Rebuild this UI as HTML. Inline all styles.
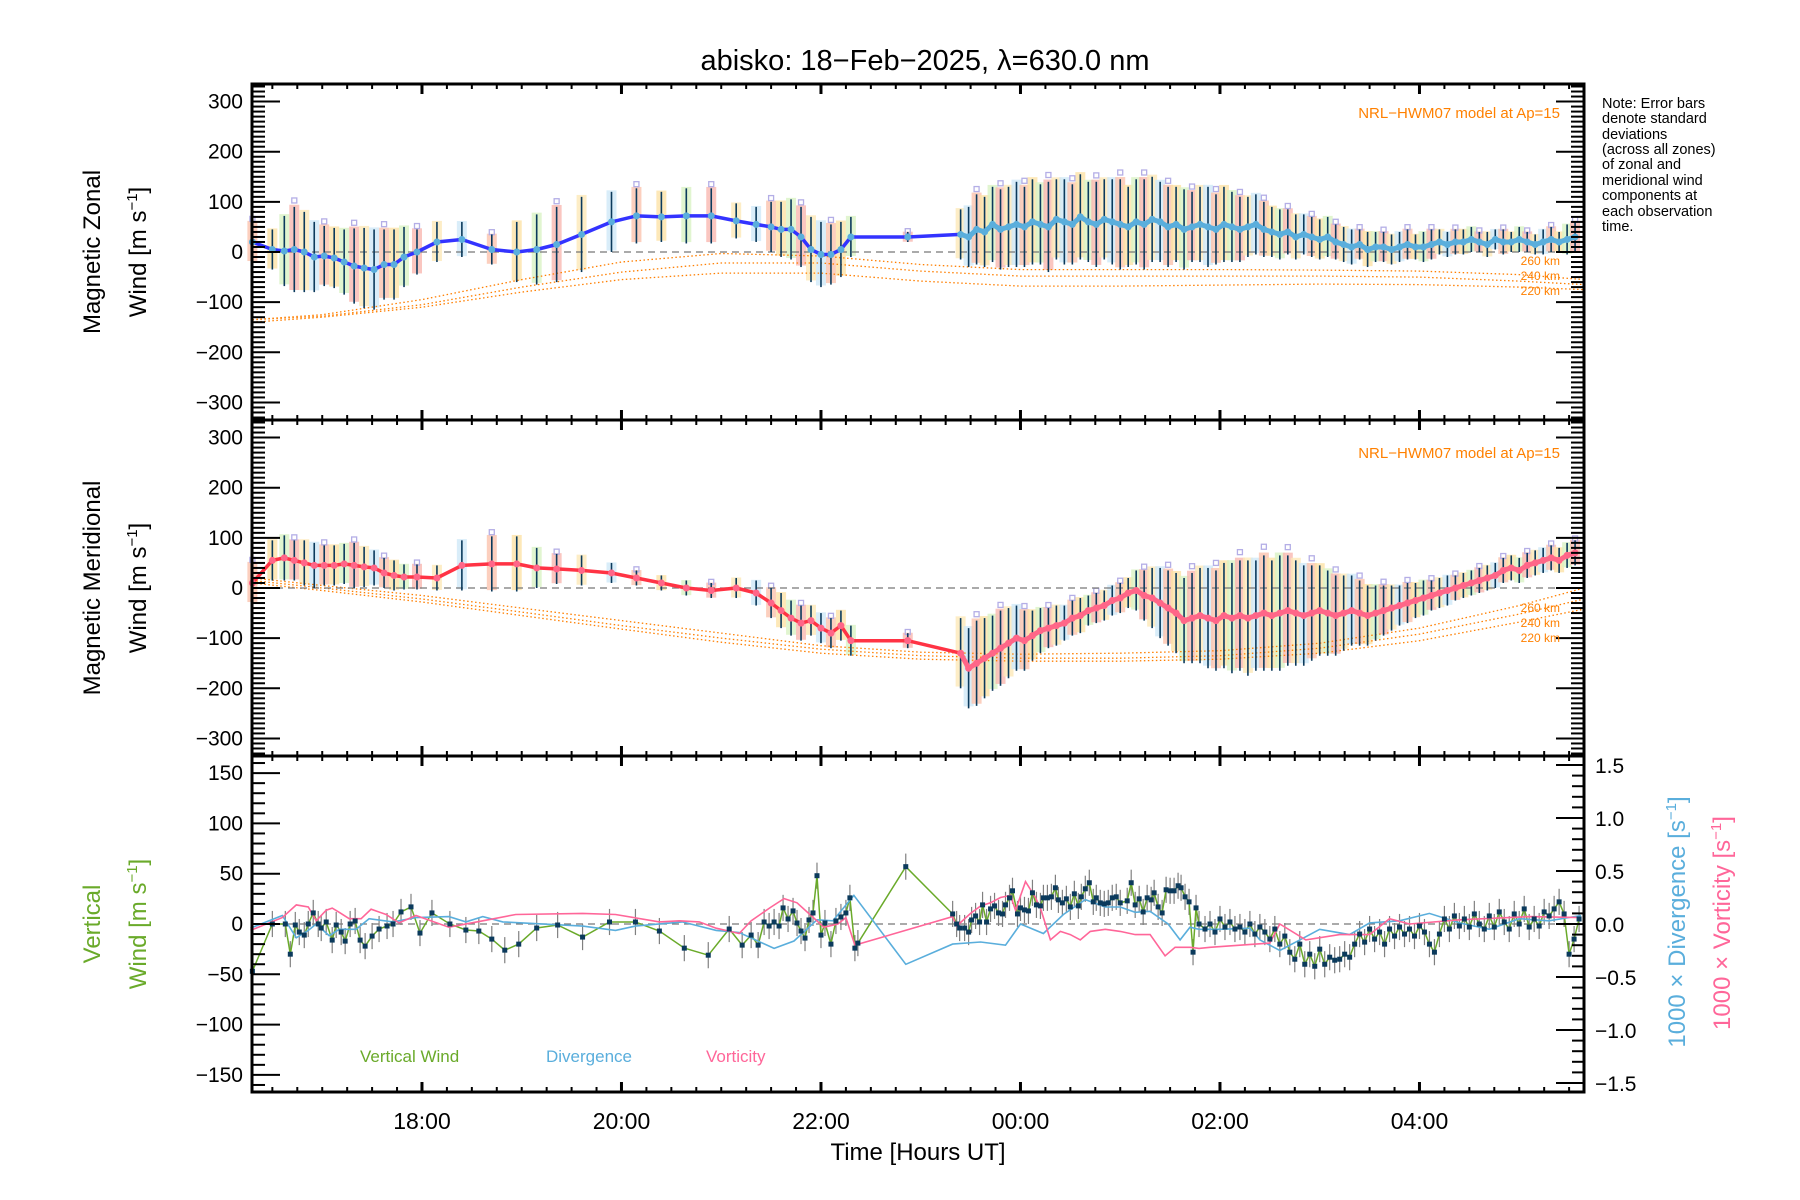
<!DOCTYPE html>
<html><head><meta charset="utf-8"><title>abisko winds</title>
<style>
html,body{margin:0;padding:0;background:#fff;}
svg{display:block;font-family:"Liberation Sans",sans-serif;}
</style></head>
<body>
<svg id="chart" xmlns="http://www.w3.org/2000/svg" width="1800" height="1200" viewBox="0 0 1800 1200">
<rect x="0" y="0" width="1800" height="1200" fill="#fff"/>
<text x="925" y="70" font-size="29" text-anchor="middle" fill="#000">abisko: 18−Feb−2025, λ=630.0 nm</text>
<g id="layer"></g>
<g>
<text transform="translate(100,252) rotate(-90)" font-size="24" text-anchor="middle">Magnetic Zonal</text>
<text transform="translate(146,252) rotate(-90)" font-size="24" text-anchor="middle">Wind [m s<tspan font-size="15" dy="-9">−1</tspan><tspan dy="9">]</tspan></text>
<text transform="translate(100,588) rotate(-90)" font-size="24" text-anchor="middle">Magnetic Meridional</text>
<text transform="translate(146,588) rotate(-90)" font-size="24" text-anchor="middle">Wind [m s<tspan font-size="15" dy="-9">−1</tspan><tspan dy="9">]</tspan></text>
<text transform="translate(100,924) rotate(-90)" font-size="24" text-anchor="middle" fill="#6aaa2a">Vertical</text>
<text transform="translate(146,924) rotate(-90)" font-size="24" text-anchor="middle" fill="#6aaa2a">Wind [m s<tspan font-size="15" dy="-9">−1</tspan><tspan dy="9">]</tspan></text>
<text transform="translate(1685,922) rotate(-90)" font-size="24" text-anchor="middle" fill="#5aaedc">1000 × Divergence [s<tspan font-size="15" dy="-9">−1</tspan><tspan dy="9">]</tspan></text>
<text transform="translate(1730,923) rotate(-90)" font-size="24" text-anchor="middle" fill="#ff6699">1000 × Vorticity [s<tspan font-size="15" dy="-9">−1</tspan><tspan dy="9">]</tspan></text>
<text x="918" y="1160" font-size="24" text-anchor="middle">Time [Hours UT]</text>
</g>
<g font-size="14.5" fill="#000">
<text x="1602" y="108">Note: Error bars</text>
<text x="1602" y="123">denote standard</text>
<text x="1602" y="139">deviations</text>
<text x="1602" y="154">(across all zones)</text>
<text x="1602" y="169">of zonal and</text>
<text x="1602" y="185">meridional wind</text>
<text x="1602" y="200">components at</text>
<text x="1602" y="216">each observation</text>
<text x="1602" y="231">time.</text>
</g>
<g fill="#ff8000">
<text x="1560" y="118" font-size="15" text-anchor="end">NRL−HWM07 model at Ap=15</text>
<text x="1560" y="458" font-size="15" text-anchor="end">NRL−HWM07 model at Ap=15</text>
<text x="1560" y="265" font-size="12" text-anchor="end">260 km</text>
<text x="1560" y="280" font-size="12" text-anchor="end">240 km</text>
<text x="1560" y="295" font-size="12" text-anchor="end">220 km</text>
<text x="1560" y="612" font-size="12" text-anchor="end">260 km</text>
<text x="1560" y="627" font-size="12" text-anchor="end">240 km</text>
<text x="1560" y="642" font-size="12" text-anchor="end">220 km</text>
</g>
<g font-size="17">
<text x="360" y="1062" fill="#6aaa2a">Vertical Wind</text>
<text x="546" y="1062" fill="#5aaedc">Divergence</text>
<text x="706" y="1062" fill="#ff6699">Vorticity</text>
</g>
</svg>
<script>
// ---- data ----
const obsTimes=[16.30,16.50,16.62,16.72,16.82,16.92,17.02,17.12,17.22,17.32,17.42,17.52,17.62,17.72,17.82,17.95,18.15,18.40,18.70,18.95,19.15,19.35,19.60,19.90,20.15,20.40,20.65,20.90,21.15,21.35,21.50,21.60,21.70,21.80,21.90,22.00,22.10,22.20,22.30,22.87,
23.40,23.48,23.56,23.64,23.72,23.80,23.88,23.96,24.04,24.12,24.20,24.28,24.36,24.44,24.52,24.60,24.68,24.76,24.84,24.92,25.00,25.08,25.16,25.24,25.32,25.40,25.48,25.56,25.64,25.72,25.80,25.88,25.96,26.04,26.12,26.20,26.28,26.36,26.44,26.52,26.60,26.68,26.76,26.84,26.92,27.00,27.08,27.16,27.24,27.32,27.40,27.48,27.56,27.64,27.72,27.80,27.88,27.96,28.04,28.12,28.20,28.28,28.36,28.44,28.52,28.60,28.68,28.76,28.84,28.92,29.00,29.08,29.16,29.24,29.32,29.40,29.48,29.56];
const zonalVals=[20,5,2,5,0,-10,-8,-12,-20,-28,-32,-35,-25,-25,-10,0,20,25,5,0,5,15,35,60,72,70,72,72,62,55,50,45,45,30,5,-5,-5,5,30,30,
35,30,45,40,55,45,50,55,50, 60,55,50,65,60,55,70,60,55, 65,60,55,50,60,55,65,60,50, 55,45,50,55,50,45,55,50,45, 50,55,45,40,35,40,30,35,30, 25,30,20,15,10,15,5,10,10, 5,10,15,10,10,15,20,15,20, 20,25,20,15,25,20,20,25,20, 15,20,25,20,25,30];
const zonalErr=[40,40,70,85,80,70,60,60,65,75,80,80,70,70,60,45,40,35,30,60,70,75,75,60,55,50,55,55,35,35,50,55,60,60,65,65,60,55,40,10,
50,60,70,70,75,80,80,85,80, 85,80,90,80,85,80,85,80,85, 80,85,90,80,85,90,85,80,80, 75,80,70,75,80,70,75,70,65, 60,60,55,50,50,45,45,40,40, 40,40,35,35,35,30,35,30,30, 30,30,30,25,30,30,25,25,25, 25,25,20,25,20,25,20,25,20, 20,25,25,20,30,30];
const meridVals=[10,55,60,55,50,45,45,45,48,45,42,40,30,25,22,22,20,45,48,48,40,38,35,30,20,10,0,-5,0,-10,-30,-45,-60,-70,-65,-80,-90,-75,-105,-105,
-130,-160,-150,-140,-130,-120,-110,-100,-105, -95,-85,-80,-75,-70,-60,-55,-45,-40, -35,-25,-20,-10,-5,-15,-20,-30,-40, -50,-65,-60,-55,-60,-65,-55,-60,-55, -60,-55,-50,-55,-50,-45,-50,-55,-50, -45,-50,-55,-50,-45,-50,-55,-50,-45, -40,-35,-30,-25,-20,-15,-10,-5,0, 5,10,15,20,25,35,40,35,45, 50,55,60,55,65,70];
const meridErr=[40,40,45,40,45,45,40,40,40,45,40,35,30,30,25,25,25,50,55,55,40,30,30,20,15,15,15,15,20,25,30,35,35,35,30,30,30,30,30,15,
70,80,85,80,75,75,70,65,60, 50,45,40,40,35,35,35,30,30, 30,30,30,30,40,50,60,70,75, 80,85,90,95,100,100,105,110,110, 115,110,115,110,115,110,105,100,95, 90,85,80,75,70,65,60,55,50, 45,40,40,35,35,30,30,30,25, 25,25,25,25,25,25,25,25,25, 25,25,25,25,25,25];
const vertTimes=[16.30,16.50,16.63,16.68,16.73,16.77,16.82,16.86,16.91,16.96,16.99,17.04,17.10,17.14,17.19,17.23,17.28,17.33,17.38,17.43,17.50,17.57,17.65,17.71,17.79,17.89,17.98,18.10,18.28,18.44,18.57,18.70,18.83,18.97,19.15,19.36,19.61,19.88,20.14,20.38,20.63,20.87,21.08,21.21,21.30,21.37,21.43,21.48,21.53,21.58,21.62,21.67,21.72,21.76,21.80,21.84,21.88,21.92,21.96,22.00,22.04,22.10,22.15,22.20,22.25,22.29,22.34,22.37,22.85,23.32,
23.36,23.39,23.44,23.48,23.51,23.55,23.59,23.62,23.66,23.70,23.74,23.78,23.82,23.85,23.89,23.92,23.97,24.00,24.04,24.08,24.12,24.16,24.20,24.23,24.27,24.31,24.35,24.38,24.42,24.46,24.50,24.54,24.58,24.61,24.65,24.69,24.73,24.76,24.80,24.84,24.88,24.92,24.96,25.00,25.07,25.11,25.15,25.19,25.23,25.27,25.31,25.34,25.38,25.42,25.46,25.50,25.54,25.58,25.61,25.65,25.69,25.73,25.76,25.79,
25.85,25.90,25.95,26.00,26.05,26.10,26.15,26.20,26.25,26.30,26.35,26.40,26.45,26.50,26.55,26.60,26.65,26.70,26.75,26.80,26.85,26.90,26.95,27.00,27.05,27.10,27.15,27.20,27.25,27.30,27.35,27.40,27.45,27.50,27.55,27.60,27.65,27.70,27.75,27.80,27.85,27.90,27.95,28.00,28.05,28.10,28.15,28.20,28.25,28.30,28.35,28.40,28.45,28.50,28.55,28.60,28.65,28.70,28.75,28.80,28.85,28.90,28.95,29.00,29.05,29.10,29.15,29.20,29.25,29.30,29.35,29.40,29.45,29.50,29.55,29.60];
const vertVals=[-47,0,0,-30,-1,-8,-11,0,11,0,-4,2,-16,-1,-8,-17,0,3,-16,-22,-12,-5,-2,0,12,17,-9,11,0,-6,-7,-15,-26,-20,-4,-1,-13,2,2,-7,-24,-31,-5,-21,-11,-21,2,-2,2,-2,16,5,13,1,-7,-14,4,11,48,-11,1,-20,3,7,11,26,-24,-19,57,10,
0,-4,-4,-8,4,8,2,19,2,15,18,11,10,19,26,33,10,16,14,13,31,19,18,26,26,27,36,24,21,25,17,30,18,27,35,41,22,26,21,20,21,26,27,21,23,41,19,25,12,26,24,31,17,11,34,33,33,38,36,27,22,-28,16,0,
-5,0,-8,5,-3,2,-5,-3,-8,0,-10,-3,-8,-15,-5,-20,-12,-28,-35,-20,-40,-30,-42,-25,-40,-33,-36,-35,-30,-33,-20,-10,-18,-5,-15,-8,-20,-5,-12,-3,-10,-5,-12,-2,-8,-20,-28,-10,5,-5,8,-2,5,-3,10,0,-5,8,-3,12,2,-5,10,0,15,-3,5,-2,12,8,15,22,10,-30,-15,5];
const divTimes=[16.28,16.60,16.74,16.86,16.94,17.07,17.17,17.34,17.47,17.71,17.94,18.27,18.44,18.61,18.81,19.61,19.94,20.14,20.61,20.95,21.18,21.53,21.73,21.96,22.12,22.33,22.85,23.32,23.60,23.85,24.00,24.23,24.43,24.65,24.85,25.00,25.15,25.30,25.48,25.60,25.70,25.79,26.00,26.30,26.40,26.60,26.80,27.00,27.30,27.50,27.80,28.10,28.40,28.70,29.00,29.30,29.62];
const divVals=[-0.04,0.08,-0.13,-0.06,0.0,-0.11,-0.05,-0.05,0.05,0.02,0.06,0.07,0.02,0.07,0.02,-0.02,-0.06,-0.02,0.02,-0.06,-0.08,-0.23,-0.16,0.04,0.03,0.27,-0.38,-0.19,-0.17,-0.2,0.0,-0.09,0.09,0.23,0.16,0.16,0.11,0.12,0.0,-0.15,-0.03,-0.05,-0.05,-0.04,-0.15,-0.25,-0.15,-0.05,-0.1,0.01,0.03,0.1,0.01,-0.05,0.05,0.03,0.08];
const vortTimes=[16.28,16.60,16.74,16.86,16.94,17.04,17.10,17.17,17.27,17.39,17.49,17.64,17.77,17.94,18.27,18.61,18.94,19.61,19.94,20.38,20.58,20.78,20.95,21.18,21.30,21.50,21.63,21.76,21.90,22.03,22.17,22.25,22.34,23.32,23.36,23.50,23.60,23.70,23.80,23.90,23.95,24.05,24.15,24.20,24.30,24.40,24.50,24.60,24.70,24.85,25.00,25.15,25.30,25.45,25.55,25.70,25.79,25.90,26.20,26.50,26.60,26.86,27.20,27.50,27.70,27.90,28.40,29.10,29.62];
const vortVals=[-0.06,0.06,0.18,0.16,0.03,0.13,0.15,0.11,0.05,0.05,0.14,0.09,0.01,0.08,-0.03,0.03,0.09,0.1,0.09,0.02,0.03,0.02,-0.04,-0.09,0.03,0.16,0.24,0.2,0.08,-0.03,0.0,0.06,-0.2,0.07,-0.02,0.1,0.17,0.2,0.25,0.27,0.13,0.4,0.25,0.15,-0.15,-0.07,-0.1,-0.15,-0.07,-0.05,-0.07,-0.1,-0.1,-0.3,-0.22,-0.22,-0.23,-0.22,-0.2,-0.18,0.0,-0.15,-0.1,-0.1,0.05,0.0,0.04,0.07,0.06];
const modelTimes=[16.3,17,18,19,20,21,22,23,24,25,26,27,28,29,29.65];
const zonal260=[-135,-125,-95,-55,-20,-3,-8,-25,-35,-35,-35,-36,-38,-45,-55];
const zonal240=[-135,-128,-105,-70,-40,-22,-22,-38,-48,-48,-48,-48,-50,-58,-65];
const zonal220=[-140,-130,-110,-80,-55,-42,-42,-58,-68,-68,-66,-64,-65,-70,-75];
const merid260=[20,5,-15,-40,-65,-90,-115,-128,-132,-130,-125,-110,-80,-35,0];
const merid240=[15,0,-22,-48,-75,-100,-122,-135,-140,-140,-135,-120,-92,-52,-22];
const merid220=[10,-5,-28,-55,-82,-108,-130,-142,-146,-146,-142,-130,-105,-68,-42];
const xTickHours=[18,20,22,24,26,28];
const xTickLabels=["18:00","20:00","22:00","00:00","02:00","04:00"];
const windTicks=[300,200,100,0,-100,-200,-300];
const vertTicks=[150,100,50,0,-50,-100,-150];
const rightTicks=[1.5,1.0,0.5,0.0,-0.5,-1.0,-1.5];

// ---- geometry ----
const L=252,R=1584,H0=16.296,PXH=99.75;
const panels=[{top:84,bot:420},{top:420,bot:756},{top:756,bot:1092}];
function X(h){return L+(h-H0)*PXH;}
function yZ(v){return 252-v*0.5015;}
function yM(v){return 588-v*0.5015;}
function yV(v){return 924-v*1.006;}
function yR(r){return 924-r*106;}
const NS="http://www.w3.org/2000/svg";
const layer=document.getElementById('layer');
function mk(tag,attrs,parent){const e=document.createElementNS(NS,tag);for(const k in attrs)e.setAttribute(k,attrs[k]);(parent||layer).appendChild(e);return e;}
function pts(ts,vs,fy){return ts.map((t,i)=>X(t).toFixed(1)+','+fy(vs[i]).toFixed(1)).join(' ');}

const pastel=['#fbc3ae','#fde2a6','#d9f2c4','#f9b8b0','#fde9b8','#cfe8f8'];
function windPanel(prefix,vals,errs,fy,lineColor,dotColor,models){
  const g=mk('g',{});
  
  
  // pastel zone bars
  obsTimes.forEach((t,i)=>{
    const r=mk('rect',{x:X(t)-5,y:fy(vals[i]+errs[i]*1.05),width:10,height:Math.max(1,fy(vals[i]-errs[i]*0.95)-fy(vals[i]+errs[i]*1.05)),fill:pastel[i%6],opacity:0.8},g);
    
    
  });
  // outlier zone squares
  obsTimes.forEach((t,i)=>{
    if(i%3!==0) return;
    const s=mk('rect',{x:X(t)-2.5,y:fy(vals[i]+errs[i]*1.15)-2.5,width:5,height:5,fill:'none',stroke:'#b4aee6','stroke-width':1.3},g);
    
    
  });
  // model curves
  models.forEach((m,k)=>{
    const p=mk('polyline',{points:pts(modelTimes,m,fy),fill:'none',stroke:'#ff7f00','stroke-width':1.3,'stroke-dasharray':'1.5,2.5'},g);
    
    
  });
  // zero line
  const z=mk('line',{x1:L,x2:R,y1:fy(0),y2:fy(0),stroke:'#777','stroke-width':1.2,'stroke-dasharray':'7,5'},g);
  
  
  // error bars
  obsTimes.forEach((t,i)=>{
    const e=mk('line',{x1:X(t),x2:X(t),y1:fy(vals[i]+errs[i]),y2:fy(vals[i]-errs[i]),stroke:'#0b3a5c','stroke-width':1.6},g);
    
    
  });
  // mean line
  const ln=mk('polyline',{points:pts(obsTimes,vals,fy),fill:'none',stroke:lineColor,'stroke-width':3.5,'stroke-linejoin':'round'},g);
  
  
  const dense=obsTimes.map((t,i)=>i).filter(i=>obsTimes[i]>23.3);
  const ln2=mk('polyline',{points:dense.map(i=>X(obsTimes[i]).toFixed(1)+','+fy(vals[i]).toFixed(1)).join(' '),fill:'none',stroke:dotColor,'stroke-width':5,'stroke-linejoin':'round'},g);
  
  
  obsTimes.forEach((t,i)=>{
    const c=mk('circle',{cx:X(t),cy:fy(vals[i]),r:3.5,fill:dotColor},g);
    
    
  });
}
windPanel('zonal',zonalVals,zonalErr,yZ,'#3333ff','#5aaedc',[zonal260,zonal240,zonal220]);
windPanel('meridional',meridVals,meridErr,yM,'#ff3344','#ff6688',[merid260,merid240,merid220]);

// ---- vertical panel ----
const g3=mk('g',{});


const z3=mk('line',{x1:L,x2:R,y1:yV(0),y2:yV(0),stroke:'#777','stroke-width':1.2,'stroke-dasharray':'7,5'},g3);


vertTimes.forEach((t,i)=>{
  const e=mk('line',{x1:X(t),x2:X(t),y1:yV(vertVals[i]+13),y2:yV(vertVals[i]-13),stroke:'#808080','stroke-width':1.2},g3);
  
  
});
const vl=mk('polyline',{points:pts(vertTimes,vertVals,yV),fill:'none',stroke:'#6aaa2a','stroke-width':1.5},g3);


const dl=mk('polyline',{points:pts(divTimes,divVals,yR),fill:'none',stroke:'#5aaedc','stroke-width':1.6},g3);


const wl=mk('polyline',{points:pts(vortTimes,vortVals,yR),fill:'none',stroke:'#ff6699','stroke-width':1.6},g3);


vertTimes.forEach((t,i)=>{
  const s=mk('rect',{x:X(t)-2.5,y:yV(vertVals[i])-2.5,width:5,height:5,fill:'#0b3a5c'},g3);
  
  
});

// ---- axes ----
const ax=mk('g',{stroke:'#000'});


panels.forEach((p,k)=>{
  const fr=mk('rect',{x:L,y:p.top,width:R-L,height:p.bot-p.top,fill:'none','stroke-width':3},ax);
  
  
  for(let h=16.5;h<29.7;h+=0.25){
    const major=xTickHours.includes(Math.round(h*100)/100);
    const len=major?10:5;
    mk('line',{x1:X(h),x2:X(h),y1:p.top,y2:p.top+len,'stroke-width':major?3:2},ax);
    mk('line',{x1:X(h),x2:X(h),y1:p.bot,y2:p.bot-len,'stroke-width':major?3:2},ax);
  }
});
[[yZ,84,420],[yM,420,756]].forEach(([fy,top,bot],k)=>{
  for(let v=-330;v<=330;v+=10){
    const y=fy(v); if(y<top+2||y>bot-2) continue;
    const major=v%100===0;
    const len=major?28:13;
    mk('line',{x1:L,x2:L+len,y1:y,y2:y,'stroke-width':2},ax);
    mk('line',{x1:R,x2:R-len,y1:y,y2:y,'stroke-width':2},ax);
  }
  windTicks.forEach(v=>{
    const t=mk('text',{x:243,y:fy(v)+7,'font-size':21,'text-anchor':'end',stroke:'none',fill:'#000'},ax);
    t.textContent=(v<0?'−':'')+Math.abs(v);
    
    
  });
});
for(let v=-160;v<=160;v+=10){
  const y=yV(v); const major=v%50===0;
  mk('line',{x1:L,x2:L+(major?28:13),y1:y,y2:y,'stroke-width':2},ax);
}
vertTicks.forEach(v=>{
  const t=mk('text',{x:243,y:yV(v)+7,'font-size':21,'text-anchor':'end',stroke:'none',fill:'#000'},ax);
  t.textContent=(v<0?'−':'')+Math.abs(v);
  
  
});
for(let r=-15;r<=15;r+=1){
  const y=yR(r/10); const major=r%5===0;
  mk('line',{x1:R,x2:R-(major?28:12),y1:y,y2:y,'stroke-width':2},ax);
}
rightTicks.forEach(r=>{
  const t=mk('text',{x:1595,y:yR(r)+8,'font-size':21,'text-anchor':'start',stroke:'none',fill:'#000'},ax);
  t.textContent=(r<0?'−':'')+Math.abs(r).toFixed(1);
  
  
});
xTickHours.forEach((h,i)=>{
  const t=mk('text',{x:X(h),y:1129,'font-size':23,'text-anchor':'middle',stroke:'none',fill:'#000'},ax);
  t.textContent=xTickLabels[i];
  
  
});
</script>
</body></html>
